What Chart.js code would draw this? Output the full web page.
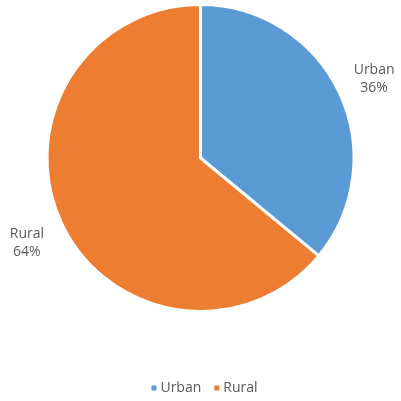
<!DOCTYPE html>
<html>
<head>
<meta charset="utf-8">
<script src="https://cdn.jsdelivr.net/npm/chart.js@4"></script>
<style>
  html, body { margin: 0; padding: 0; background: #fff; }
  #wrap { width: 401px; height: 401px; }
</style>
</head>
<body>
<div id="wrap"><canvas id="chart" width="401" height="401"></canvas></div>
<script>
const categories = ['Urban', 'Rural'];
const shares = [36, 64];
const sliceColors = ['#5B9BD5', '#ED7D31'];

const FONT = '14px "Open Sans", sans-serif';
const TEXT_COLOR = '#595959';

// slice labels drawn outside the pie, along each slice's middle angle
const outsideLabels = {
  id: 'outsideLabels',
  afterDatasetsDraw(chart) {
    const ctx = chart.ctx;
    const meta = chart.getDatasetMeta(0);
    const total = shares.reduce((a, b) => a + b, 0);
    ctx.save();
    ctx.font = FONT;
    ctx.fillStyle = TEXT_COLOR;
    ctx.textAlign = 'center';
    ctx.textBaseline = 'middle';
    meta.data.forEach((arc, i) => {
      const mid = (arc.startAngle + arc.endAngle) / 2;
      const r = arc.outerRadius * 1.25;
      const x = arc.x + Math.cos(mid) * r;
      const y = arc.y + Math.sin(mid) * r + 3;
      const pct = Math.round(shares[i] / total * 100) + '%';
      ctx.fillText(categories[i], x, y - 9);
      ctx.fillText(pct, x, y + 9);
    });
    ctx.restore();
  }
};

// small square-marker legend near the bottom edge
const bottomLegend = {
  id: 'bottomLegend',
  afterDraw(chart) {
    const ctx = chart.ctx;
    const box = 5, gap = 4, itemGap = 13, y = 388;
    ctx.save();
    ctx.font = FONT;
    ctx.textBaseline = 'middle';
    const widths = categories.map(c => box + gap + ctx.measureText(c).width);
    const total = widths.reduce((a, b) => a + b, 0) + itemGap * (categories.length - 1);
    let x = chart.width / 2 + 4 - total / 2;
    categories.forEach((c, i) => {
      ctx.fillStyle = sliceColors[i];
      ctx.fillRect(x, y - box / 2, box, box);
      ctx.fillStyle = TEXT_COLOR;
      ctx.textAlign = 'left';
      ctx.fillText(c, x + box + gap, y);
      x += widths[i] + itemGap;
    });
    ctx.restore();
  }
};

new Chart(document.getElementById('chart'), {
  type: 'pie',
  data: {
    labels: categories,
    datasets: [{
      data: shares,
      backgroundColor: sliceColors,
      borderColor: '#ffffff',
      borderWidth: 3
    }]
  },
  options: {
    responsive: false,
    animation: false,
    layout: { padding: { top: 3, bottom: 88 } },
    plugins: {
      tooltip: { enabled: false },
      legend: { display: false }
    }
  },
  plugins: [outsideLabels, bottomLegend]
});
</script>
</body>
</html>
